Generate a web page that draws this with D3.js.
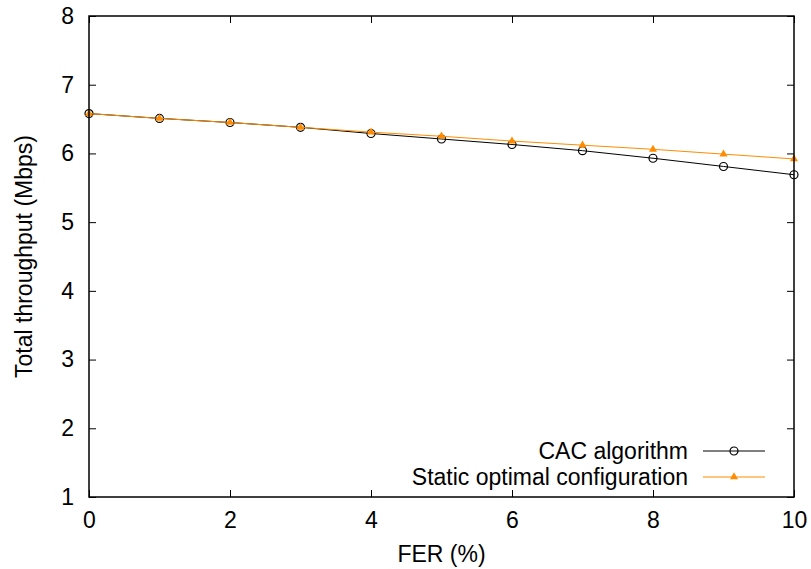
<!DOCTYPE html>
<html>
<head>
<meta charset="utf-8">
<script src="https://cdn.jsdelivr.net/npm/d3@7"></script>
<style>
  body { margin: 0; background: #fff; }
  text { font-family: "Liberation Sans", Arial, sans-serif; fill: #000; }
</style>
</head>
<body>
<div id="chart"></div>
<script>
// FER values (%)
var fer = [0, 1, 2, 3, 4, 5, 6, 7, 8, 9, 10];
// CAC algorithm throughput (Mbps)
var cac = [6.58, 6.51, 6.45, 6.38, 6.29, 6.21, 6.13, 6.04, 5.93, 5.81, 5.69];
// static optimal configuration (Mbps)
var stat = [6.58, 6.51, 6.45, 6.38, 6.31, 6.25, 6.18, 6.12, 6.06, 5.99, 5.92];

var xTicks = [0, 2, 4, 6, 8, 10];
var yTicks = [1, 2, 3, 4, 5, 6, 7, 8];
var seriesNames = ["CAC algorithm", "Static optimal configuration"];

var W = 811, H = 569;
var margin = {top: 16, right: 17, bottom: 72, left: 89},
    width = W - margin.left - margin.right,
    height = H - margin.top - margin.bottom;

var orange = "#ff8c00";
var fs = "23px";

var svg = d3.select("#chart").append("svg")
    .attr("width", W)
    .attr("height", H);

var chart = svg.append("g")
    .attr("transform", "translate(" + margin.left + "," + margin.top + ")");

var x = d3.scaleLinear().domain([0, 10]).range([0, width]);
var y = d3.scaleLinear().domain([1, 8]).range([height, 0]);

// ticks (inside, mirrored like gnuplot)
var tl = 7;
chart.append("g")
    .attr("transform", "translate(0," + height + ")")
    .call(d3.axisBottom(x).tickValues(xTicks).tickSizeInner(-tl).tickSizeOuter(0).tickPadding(15).tickFormat(d3.format("d")))
    .call(function(g) { g.select(".domain").remove(); });
chart.append("g")
    .call(d3.axisTop(x).tickValues(xTicks).tickSizeInner(-tl).tickSizeOuter(0).tickFormat(""))
    .call(function(g) { g.select(".domain").remove(); });
chart.append("g")
    .call(d3.axisLeft(y).tickValues(yTicks).tickSizeInner(-tl).tickSizeOuter(0).tickPadding(15).tickFormat(d3.format("d")))
    .call(function(g) { g.select(".domain").remove(); });
chart.append("g")
    .attr("transform", "translate(" + width + ",0)")
    .call(d3.axisRight(y).tickValues(yTicks).tickSizeInner(-tl).tickSizeOuter(0).tickFormat(""))
    .call(function(g) { g.select(".domain").remove(); });

chart.selectAll(".tick text").style("font-size", fs);
chart.selectAll(".tick line").attr("stroke", "#000");

var line = d3.line()
    .x(function(d, i) { return x(fer[i]); })
    .y(function(d) { return y(d); });

chart.append("path")
    .datum(cac)
    .attr("fill", "none")
    .attr("stroke", "#000")
    .attr("stroke-width", 1)
    .attr("d", line);

chart.selectAll(".cac")
    .data(cac)
    .enter().append("circle")
    .attr("class", "cac")
    .attr("cx", function(d, i) { return x(fer[i]); })
    .attr("cy", function(d) { return y(d); })
    .attr("r", 4)
    .attr("fill", "none")
    .attr("stroke", "#000")
    .attr("stroke-width", 1.2);

chart.append("path")
    .datum(stat)
    .attr("fill", "none")
    .attr("stroke", orange)
    .attr("stroke-width", 1)
    .attr("d", line);

var tri = d3.symbol().type(d3.symbolTriangle).size(28);
chart.selectAll(".stat")
    .data(stat)
    .enter().append("path")
    .attr("class", "stat")
    .attr("transform", function(d, i) { return "translate(" + x(fer[i]) + "," + y(d) + ")"; })
    .attr("d", tri)
    .attr("fill", orange);

// frame
chart.append("rect")
    .attr("width", width)
    .attr("height", height)
    .attr("fill", "none")
    .attr("stroke", "#000")
    .attr("stroke-width", 1.5);

// legend
var legend = chart.append("g")
    .attr("transform", "translate(" + (width - 91) + "," + (height - 46) + ")");

seriesNames.forEach(function(name, i) {
    var row = legend.append("g").attr("transform", "translate(0," + (i * 26) + ")");
    row.append("text")
        .attr("x", -15)
        .attr("dy", "0.35em")
        .style("text-anchor", "end")
        .style("font-size", fs)
        .text(name);
    row.append("line")
        .attr("x1", 0).attr("x2", 62)
        .attr("stroke", i === 0 ? "#000" : orange)
        .attr("stroke-width", 1);
    if (i === 0) {
        row.append("circle")
            .attr("cx", 31).attr("r", 4)
            .attr("fill", "none")
            .attr("stroke", "#000")
            .attr("stroke-width", 1.2);
    } else {
        row.append("path")
            .attr("transform", "translate(31,0)")
            .attr("d", tri)
            .attr("fill", orange);
    }
});

// axis titles
svg.append("text")
    .attr("x", margin.left + width / 2)
    .attr("y", 562)
    .style("text-anchor", "middle")
    .style("font-size", fs)
    .text("FER (%)");

svg.append("text")
    .attr("transform", "rotate(-90)")
    .attr("x", -(margin.top + height / 2))
    .attr("y", 32)
    .style("text-anchor", "middle")
    .style("font-size", fs)
    .text("Total throughput (Mbps)");
</script>
</body>
</html>
